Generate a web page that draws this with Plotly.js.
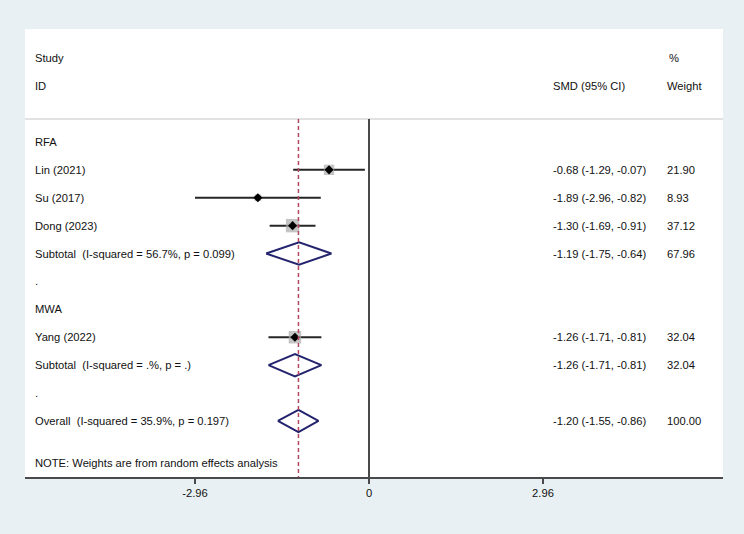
<!DOCTYPE html>
<html>
<head>
<meta charset="utf-8">
<script src="https://cdn.plot.ly/plotly-3.0.1.min.js"></script>
<style>html,body{margin:0;padding:0;background:#e9f0f3;}#chart{width:744px;height:534px;}</style>
</head>
<body>
<div id="chart"></div>
<script>
// ---- data ----
var groupLabels = ["RFA", "MWA"];
var groupRows = [0, 6];
var studyLabels = ["Lin (2021)", "Su (2017)", "Dong (2023)", "Yang (2022)"];
var studyRows = [1, 2, 3, 7];
var studySMD = [-0.68, -1.89, -1.30, -1.26];
var studyLo = [-1.29, -2.96, -1.69, -1.71];
var studyHi = [-0.07, -0.82, -0.91, -0.81];
var studyWeight = [21.90, 8.93, 37.12, 32.04];

var subLabels = ["Subtotal\u00a0 (I-squared = 56.7%, p = 0.099)", "Subtotal\u00a0 (I-squared = .%, p = .)"];
var subRows = [4, 8];
var subSMD = [-1.19, -1.26];
var subLo = [-1.75, -1.71];
var subHi = [-0.64, -0.81];
var subWeight = [67.96, 32.04];

var overallLabel = "Overall\u00a0 (I-squared = 35.9%, p = 0.197)";
var overallRow = 10;
var overallSMD = -1.20;
var overallLo = -1.55;
var overallHi = -0.86;
var overallWeight = 100.00;

var spacerRows = [5, 9];
var tickVals = [-2.96, 0, 2.96];
var tickText = ["-2.96", "0", "2.96"];
var nullValue = 0;
var noteText = "NOTE: Weights are from random effects analysis";
var headerStudy = ["Study", "ID"];
var headerCI = "SMD (95% CI)";
var headerWeight = ["%", "Weight"];

// ---- layout helpers ----
var W = 744, H = 534;
var L = 25, R = 723, T = 29, B = 477;
function px(x) { return (x - L) / (R - L); }
var FONT = "Liberation Sans, Arial, sans-serif";
var FS = 11.2;
var TXT = "#111111";
var rowTop = -4.05, rowBot = 12.01, sepRow = -0.82;

function fmt(v) { return v.toFixed(2); }
function ciText(e, l, h) { return fmt(e) + " (" + fmt(l) + ", " + fmt(h) + ")"; }

var traces = [];
// CI lines
var cx = [], cy = [];
for (var i = 0; i < studyLabels.length; i++) {
  cx.push(studyLo[i], studyHi[i], null);
  cy.push(studyRows[i], studyRows[i], null);
}
traces.push({x: cx, y: cy, mode: "lines", line: {color: "#262626", width: 2}, hoverinfo: "skip"});
// weight boxes
traces.push({
  x: studySMD, y: studyRows, mode: "markers",
  marker: {symbol: "square", color: "#ababab", size: studyWeight.map(function (w) { return 2.2 * Math.sqrt(w); }), line: {width: 0}},
  hoverinfo: "skip"
});
// point estimates
traces.push({x: studySMD, y: studyRows, mode: "markers", marker: {symbol: "diamond", color: "#000", size: 7}, hoverinfo: "skip"});
// diamonds
function diamond(e, l, h, r) {
  return {x: [l, e, h, e, l], y: [r, r - 0.4, r, r + 0.4, r], mode: "lines",
    line: {color: "#24246e", width: 2}, hoverinfo: "skip"};
}
for (var j = 0; j < subRows.length; j++) traces.push(diamond(subSMD[j], subLo[j], subHi[j], subRows[j]));
traces.push(diamond(overallSMD, overallLo, overallHi, overallRow));

// annotations
var ann = [];
function addText(x, row, t) {
  ann.push({xref: "paper", yref: "y", x: px(x), y: row, text: t, showarrow: false,
    xanchor: "left", yanchor: "middle", font: {family: FONT, size: FS, color: TXT}});
}
addText(33, -3, headerStudy[0]);
addText(33, -2, headerStudy[1]);
addText(551, -2, headerCI);
addText(667, -3, headerWeight[0]);
addText(665, -2, headerWeight[1]);
for (var g = 0; g < groupLabels.length; g++) addText(33, groupRows[g], groupLabels[g]);
for (var i2 = 0; i2 < studyLabels.length; i2++) {
  addText(33, studyRows[i2], studyLabels[i2]);
  addText(551, studyRows[i2], ciText(studySMD[i2], studyLo[i2], studyHi[i2]));
  addText(665, studyRows[i2], fmt(studyWeight[i2]));
}
for (var s = 0; s < subRows.length; s++) {
  addText(33, subRows[s], subLabels[s]);
  addText(551, subRows[s], ciText(subSMD[s], subLo[s], subHi[s]));
  addText(665, subRows[s], fmt(subWeight[s]));
}
for (var k = 0; k < spacerRows.length; k++) addText(33, spacerRows[k], ".");
addText(33, overallRow, overallLabel);
addText(551, overallRow, ciText(overallSMD, overallLo, overallHi));
addText(665, overallRow, fmt(overallWeight));
addText(33, 11.5, noteText);

var xMin = -5.852, xMax = 6.022;
var shapes = [
  {type: "line", xref: "paper", yref: "y", x0: 0, x1: 1, y0: sepRow, y1: sepRow, line: {color: "#d9d9d9", width: 1.5}},
  {type: "line", xref: "x", yref: "y", x0: nullValue, x1: nullValue, y0: sepRow, y1: rowBot, line: {color: "#4a4a4a", width: 2}},
  {type: "line", xref: "x", yref: "y", x0: overallSMD, x1: overallSMD, y0: sepRow, y1: rowBot, line: {color: "#b4485c", width: 1.5, dash: "4px,3px"}}
];

var layout = {
  width: W, height: H,
  margin: {l: L, r: W - R, t: T, b: H - B, pad: 0},
  paper_bgcolor: "#e9f0f3", plot_bgcolor: "#ffffff",
  showlegend: false,
  xaxis: {range: [xMin, xMax], showgrid: false, zeroline: false, showline: true, linecolor: "#4a4a4a", linewidth: 2,
    ticks: "outside", ticklen: 5, tickwidth: 1.5, tickcolor: "#4a4a4a",
    tickvals: tickVals, ticktext: tickText, tickfont: {family: FONT, size: FS, color: TXT}, fixedrange: true},
  yaxis: {range: [rowBot, rowTop], showgrid: false, zeroline: false, showline: false, showticklabels: false, ticks: "", fixedrange: true},
  annotations: ann,
  shapes: shapes
};
Plotly.newPlot("chart", traces, layout, {displayModeBar: false, staticPlot: true});
</script>
</body>
</html>
